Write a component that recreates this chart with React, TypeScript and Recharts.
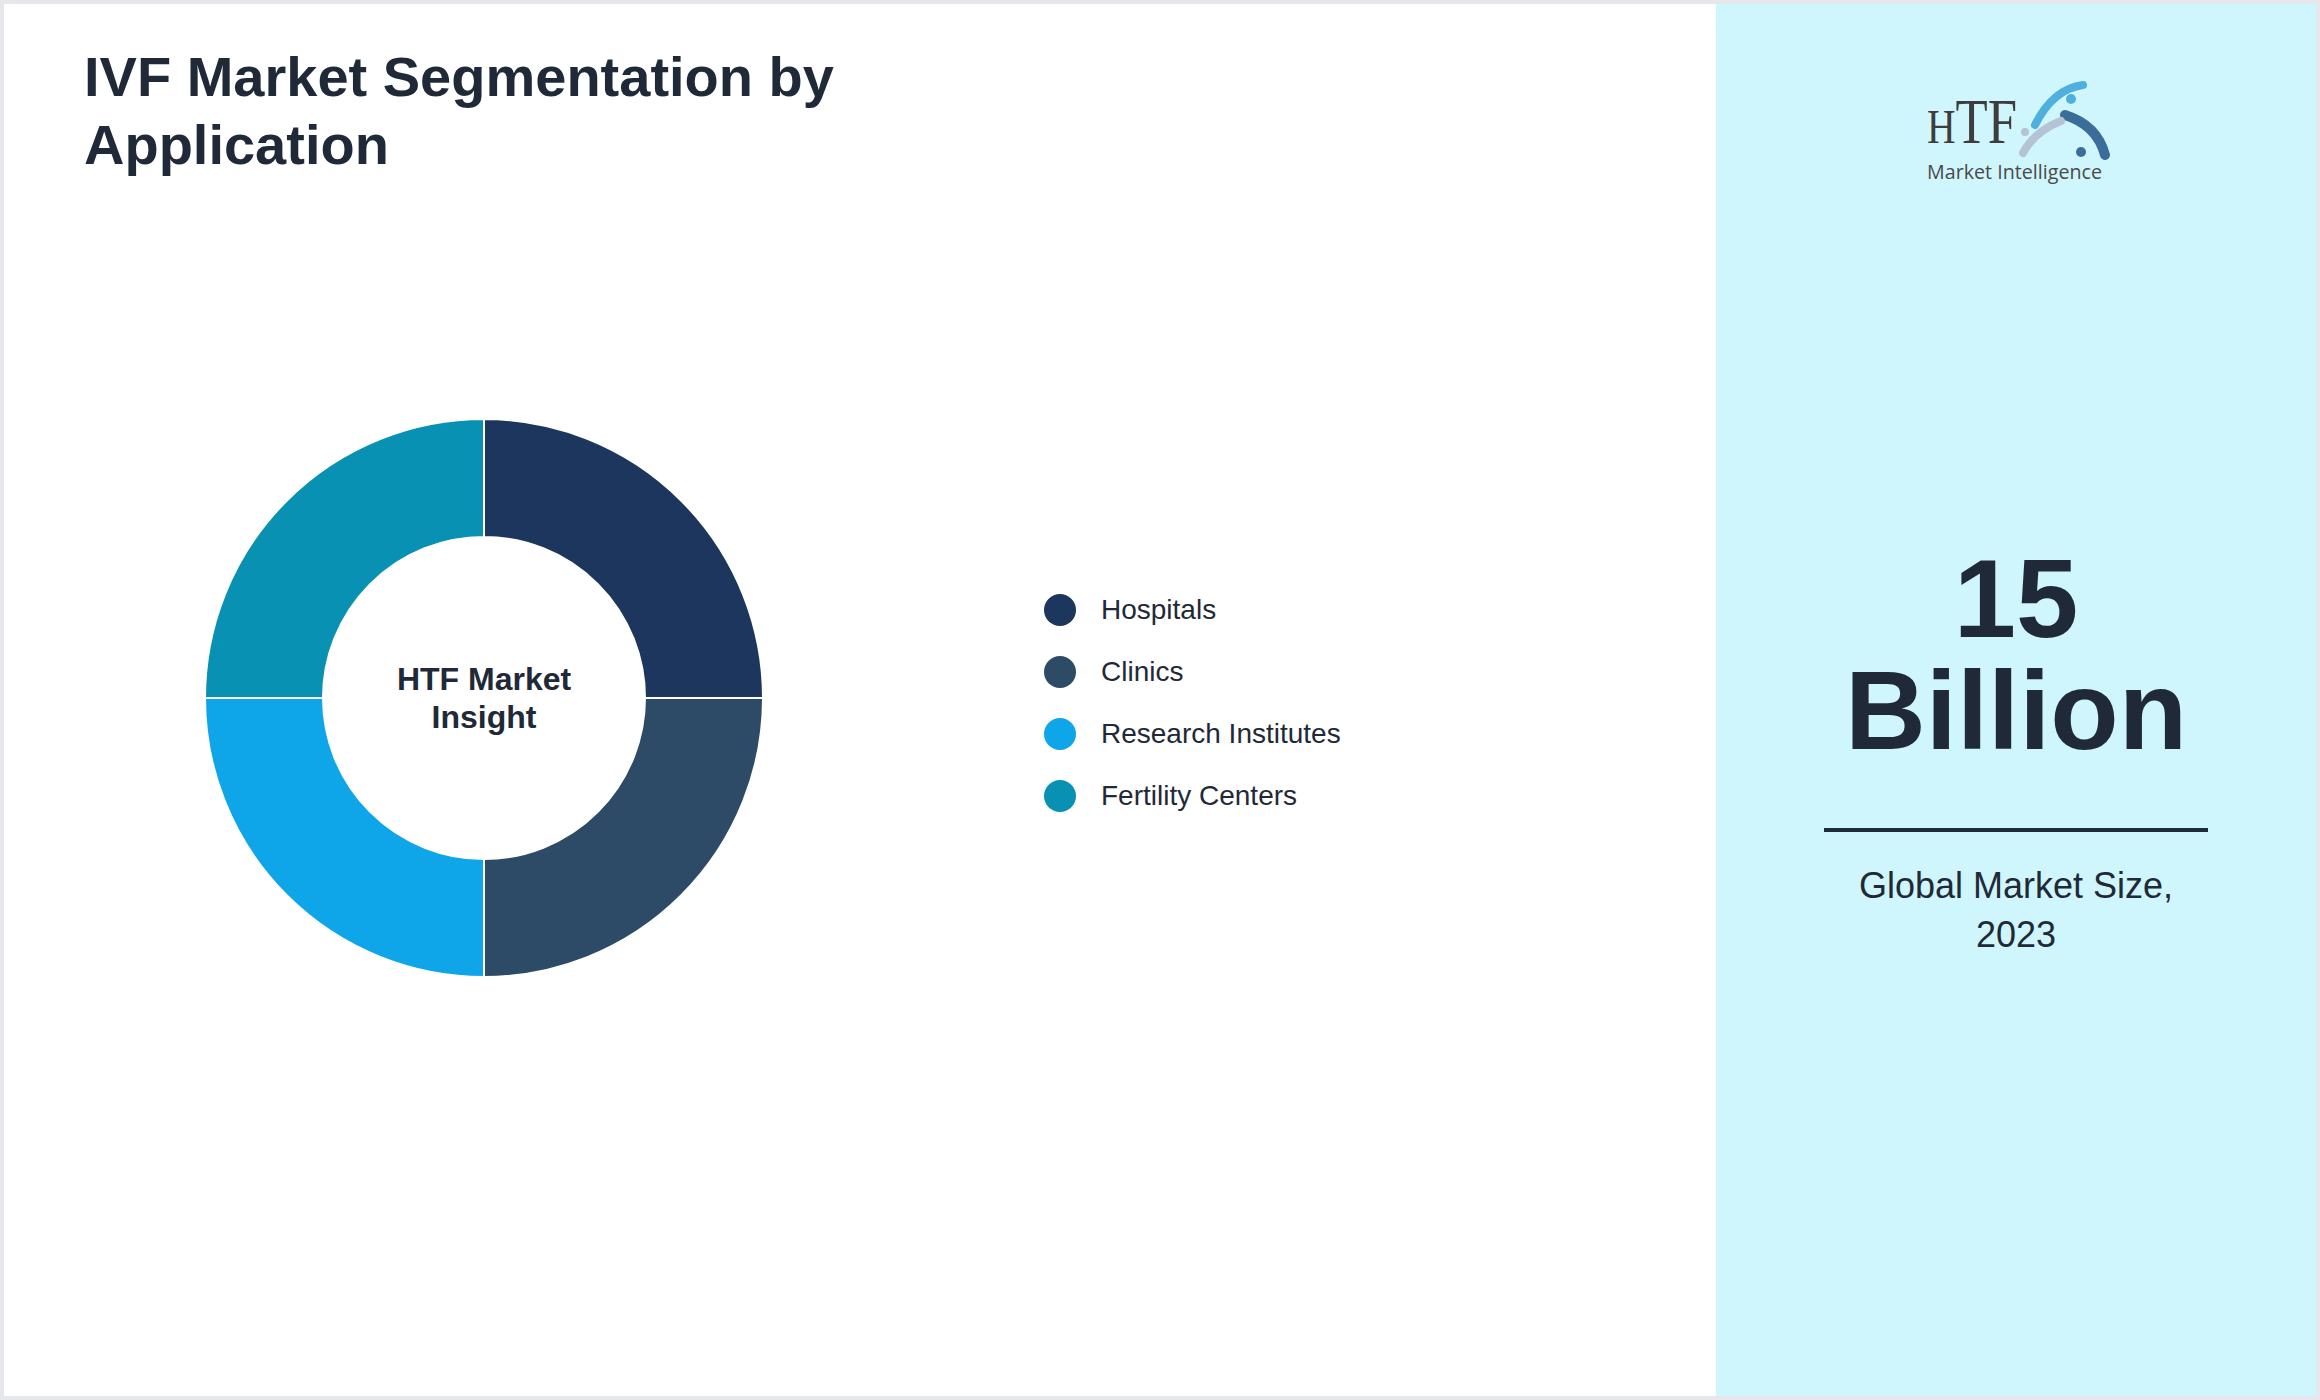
import { Cell, Label, Legend, Pie, PieChart } from "recharts";

const segments = ["Hospitals", "Clinics", "Research Institutes", "Fertility Centers"];
const shares = [25, 25, 25, 25];
const palette = ["#1c365d", "#2d4a66", "#0ea5e9", "#0891b2"];

const chartData = segments.map((name, i) => ({ name, value: shares[i] }));

const font = '"Liberation Sans", Arial, Helvetica, sans-serif';
const ink = "#1f2937";

const CenterText = ({ viewBox }: any) => {
    const cx = viewBox?.cx ?? 300;
    const cy = viewBox?.cy ?? 300;
    return (
        <text x={cx} y={cy} textAnchor="middle" fill={ink} fontFamily={font} fontWeight={700} fontSize={32}>
            <tspan x={cx} y={cy - 8}>HTF Market</tspan>
            <tspan x={cx} y={cy + 30}>Insight</tspan>
        </text>
    );
};

// keep legend rows in the same order as the segments
const LegendList = ({ payload }: any) => {
    const rows = [...(payload || [])].sort((a: any, b: any) => segments.indexOf(a.value) - segments.indexOf(b.value));
    return (
        <div style={{ fontFamily: font }}>
            {rows.map((entry: any) => (
                <div key={entry.value} style={{ display: "flex", alignItems: "center", height: 62 }}>
                    <span style={{ width: 32, height: 32, borderRadius: "50%", background: entry.color, display: "inline-block" }} />
                    <span style={{ marginLeft: 25, fontSize: 28, color: ink }}>{entry.value}</span>
                </div>
            ))}
        </div>
    );
};

const Logo = () => (
    <svg width={210} height={112} style={{ position: "absolute", left: 1915, top: 75 }}>
        <text x={12} y={68} fontFamily='"Liberation Serif", "DejaVu Serif", serif' fill="#3d3d3d" textLength={90} lengthAdjust="spacingAndGlyphs">
            <tspan fontSize={48}>H</tspan>
            <tspan fontSize={64}>TF</tspan>
        </text>
        <path d="M120 50 Q138 14 168 10" stroke="#4fb0dd" strokeWidth={8} fill="none" strokeLinecap="round" />
        <circle cx={156} cy={24} r={5} fill="#4fb0dd" />
        <path d="M150 40 Q182 50 190 80" stroke="#3a6d9a" strokeWidth={10} fill="none" strokeLinecap="round" />
        <circle cx={166} cy={77} r={5} fill="#3a6d9a" />
        <path d="M108 78 Q120 56 146 46" stroke="#b4c4d4" strokeWidth={8} fill="none" strokeLinecap="round" />
        <circle cx={110} cy={57} r={4} fill="#b4c4d4" />
        <text x={12} y={104} fontFamily='"Open Sans", "Noto Sans", sans-serif' fontSize={20} fill="#4a4a4a" textLength={175} lengthAdjust="spacingAndGlyphs">Market Intelligence</text>
    </svg>
);

const bigText = { position: "absolute" as const, left: 0, width: 600, textAlign: "center" as const, fontSize: 112, lineHeight: "112px", fontWeight: 700, color: ink };

export default function App() {
    return (
        <div style={{ position: "relative", width: 2320, height: 1400, background: "#ffffff", fontFamily: font, overflow: "hidden" }}>
            <style>{`body{margin:0}`}</style>

            <div style={{ position: "absolute", left: 84, top: 43, width: 860, fontSize: 56, lineHeight: "68px", fontWeight: 700, color: ink }}>
                IVF Market Segmentation by Application
            </div>

            <div style={{ position: "absolute", left: 184, top: 398 }}>
                <PieChart width={1300} height={600} margin={{ top: 0, right: 0, bottom: 0, left: 0 }}>
                    <Pie
                        data={chartData}
                        dataKey="value"
                        nameKey="name"
                        cx={300}
                        cy={300}
                        innerRadius={161}
                        outerRadius={279}
                        startAngle={90}
                        endAngle={-270}
                        stroke="#ffffff"
                        strokeWidth={2}
                        isAnimationActive={false}
                    >
                        {chartData.map((d, i) => (
                            <Cell key={d.name} fill={palette[i]} />
                        ))}
                        <Label position="center" content={<CenterText />} />
                    </Pie>
                    <Legend
                        layout="vertical"
                        content={<LegendList />}
                        wrapperStyle={{ position: "absolute", left: 860, top: 181, width: 400, bottom: "auto" }}
                    />
                </PieChart>
            </div>

            <div style={{ position: "absolute", left: 1716, top: 0, width: 604, height: 1400, background: "#cff6fc" }}>
                <div style={{ ...bigText, top: 543 }}>15</div>
                <div style={{ ...bigText, top: 655 }}>Billion</div>
                <div style={{ position: "absolute", left: 108, top: 828, width: 384, height: 4, background: ink }} />
                <div style={{ position: "absolute", left: 108, top: 861, width: 384, textAlign: "center", fontSize: 36, lineHeight: "49px", color: ink }}>
                    Global Market Size, 2023
                </div>
            </div>
            <Logo />

            <div style={{ position: "absolute", inset: 0, border: "4px solid #e5e7eb", pointerEvents: "none" }} />
        </div>
    );
}
